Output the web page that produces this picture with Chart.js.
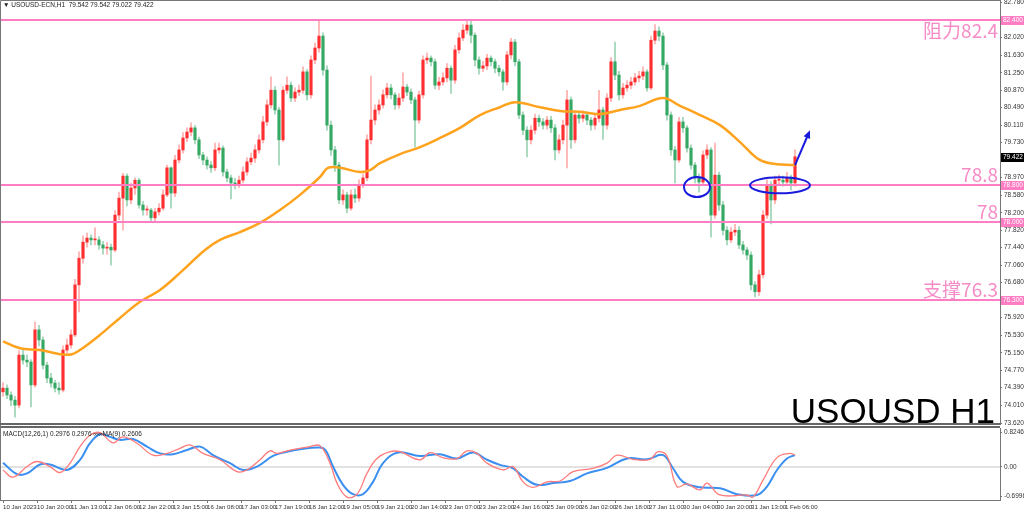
<!DOCTYPE html>
<html>
<head>
<meta charset="utf-8">
<script src="https://cdn.jsdelivr.net/npm/chart.js@4.4.0/dist/chart.umd.min.js"></script>
<style>
  html, body { margin: 0; padding: 0; background: #fff; overflow: hidden; }
  #wrap { position: relative; width: 1024px; height: 513px; }
  canvas { position: absolute; left: 0; }
  #main { top: 0; }
  #macd { top: 425px; }
</style>
</head>
<body>
<div id="wrap">
  <canvas id="main" width="1024" height="425"></canvas>
  <canvas id="macd" width="1024" height="88"></canvas>
</div>
<script>
// H1 candles in 2-hour steps (hour = 2 * index)
var firstOpen = 74.30;
var closes = [
  74.38,74.23,74.12,74.01,75.10,74.99,74.95,74.45,75.65,75.43,
  74.88,74.60,74.49,74.38,74.34,75.21,75.32,75.54,76.63,77.21,
  77.56,77.65,77.61,77.61,77.50,77.43,77.45,77.39,78.15,78.52,
  79.00,78.48,78.74,78.91,78.37,78.26,78.26,78.09,78.22,78.30,
  78.59,79.18,78.63,79.35,79.57,79.83,79.96,80.05,79.79,79.46,
  79.35,79.24,79.18,79.57,79.61,79.09,78.96,78.85,78.81,78.91,
  79.09,79.31,79.39,79.57,79.79,80.18,80.55,80.87,80.44,79.79,
  80.87,80.98,80.70,80.83,80.87,81.27,80.77,81.53,81.79,82.05,
  81.31,80.11,79.57,79.24,78.48,78.59,78.30,78.59,78.52,78.81,
  78.96,79.79,80.22,80.44,80.55,80.77,80.92,80.77,80.55,80.70,
  80.94,80.83,80.66,80.22,80.77,81.53,81.57,81.49,80.98,81.05,
  81.14,81.35,81.09,81.75,82.01,82.18,82.29,82.07,81.53,81.35,
  81.40,81.57,81.49,81.35,81.27,81.05,81.64,81.92,81.49,80.33,
  80.00,79.79,80.00,80.26,80.18,80.11,80.22,80.05,79.57,79.79,
  80.11,80.66,79.79,80.33,80.26,80.33,80.22,80.11,80.26,80.44,
  80.11,80.70,81.49,81.20,80.77,80.92,80.98,81.05,81.14,81.18,
  81.27,80.92,81.96,82.16,82.05,81.42,80.33,79.57,79.35,80.18,
  80.05,79.61,79.24,78.96,78.87,79.46,79.57,78.15,79.02,78.37,
  77.82,77.61,77.78,77.82,77.50,77.39,77.28,76.63,76.48,76.85,
  78.15,78.81,78.48,78.91,78.91,78.87,78.96,78.85,79.42
];
var highs = [
  74.50,74.45,74.30,74.20,75.20,75.25,75.10,75.00,75.82,75.75,
  75.50,74.95,74.70,74.55,74.50,75.30,75.45,75.65,76.75,77.35,
  77.70,77.76,77.72,77.87,77.68,77.58,77.55,77.52,78.25,78.65,
  79.06,79.05,78.85,78.96,78.95,78.45,78.35,78.30,78.30,78.40,
  78.70,79.24,79.20,79.45,79.68,79.95,80.05,80.16,80.10,79.85,
  79.52,79.42,79.32,79.72,79.72,79.66,79.15,79.02,78.95,79.00,
  79.20,79.40,79.50,79.68,79.90,80.30,80.66,81.16,80.95,80.50,
  80.95,81.16,81.05,80.92,80.98,81.38,81.32,81.62,81.90,82.38,
  82.12,81.40,80.20,79.65,79.30,78.70,78.65,78.70,78.72,78.92,
  79.05,79.90,81.18,80.55,80.66,80.88,81.02,81.00,80.82,80.80,
  81.25,81.00,80.90,80.72,80.85,81.62,81.68,81.62,81.55,81.15,
  81.25,81.45,81.40,81.85,82.12,82.30,82.40,82.38,82.12,81.60,
  81.50,81.65,81.62,81.55,81.42,81.32,81.72,82.00,81.98,81.55,
  80.40,80.08,80.10,80.35,80.33,80.25,80.30,80.30,80.12,79.90,
  80.22,80.87,80.72,80.42,80.40,80.42,80.40,80.28,80.35,80.87,
  80.50,80.80,81.58,81.92,81.28,81.02,81.08,81.15,81.24,81.28,
  81.38,81.32,82.05,82.30,82.25,82.12,81.48,80.40,79.65,80.28,
  80.28,80.10,79.68,79.30,79.05,79.55,79.68,79.62,79.72,79.08,
  78.45,77.90,77.88,77.95,77.90,77.58,77.45,77.35,76.70,76.95,
  78.25,78.92,78.88,79.00,79.02,79.00,79.08,79.02,79.57
];
var lows = [
  74.20,74.15,74.00,73.75,73.95,74.90,74.85,73.97,74.40,75.30,
  74.80,74.50,74.40,74.30,74.25,74.30,75.15,75.25,75.50,76.04,
  77.10,77.45,77.50,77.50,77.40,77.30,77.30,77.06,77.35,78.05,
  77.82,78.35,78.40,78.60,78.30,78.15,78.15,78.00,78.00,78.15,
  78.25,78.55,78.30,78.55,79.28,79.50,79.75,79.88,79.70,79.38,
  79.25,79.15,79.08,79.12,79.50,79.00,78.88,78.50,78.72,78.75,
  78.85,79.02,79.25,79.30,79.50,79.72,80.10,80.48,80.35,79.24,
  79.75,80.80,80.62,80.62,80.75,80.80,80.66,80.70,81.45,81.70,
  81.20,80.00,79.45,79.10,78.40,78.38,78.20,78.25,78.42,78.45,
  78.75,78.90,79.70,80.12,80.35,80.48,80.70,80.68,80.45,80.48,
  80.62,80.75,80.58,79.63,80.15,80.70,81.45,81.40,80.90,80.88,
  80.98,81.05,80.80,81.02,81.68,81.95,82.10,81.90,81.40,81.22,
  81.28,81.32,81.40,81.25,81.18,80.87,80.98,81.55,81.40,80.25,
  79.90,79.42,79.70,79.92,80.08,80.02,80.02,79.95,79.35,79.50,
  79.70,79.18,79.60,79.72,80.15,80.18,80.12,80.00,80.02,80.18,
  79.80,80.02,80.62,81.10,80.66,80.70,80.85,80.90,80.98,81.05,
  81.10,80.85,80.88,81.88,81.95,81.32,80.22,79.45,78.85,79.30,
  79.95,79.52,79.15,78.85,78.65,78.80,79.38,77.67,78.08,78.25,
  77.72,77.50,77.55,77.70,77.42,77.30,77.18,76.52,76.37,76.40,
  76.78,78.08,77.96,78.40,78.80,78.78,78.82,78.70,78.78
];

// orange moving average
var maHours = [0,8.5,18.5,28.5,34.5,38.5,48.5,58.5,68.5,78.5,88.5,101,108.5,118.5,128.5,138.5,148.5,158.5,162.5,168.5,178.5,183.5,188.5,198.5,208.5,218.5,228.5,238.5,248.5,256,268.5,278.5,288.5,298.5,308.5,318.5,330,338.5,348.5,358.5,368.5,377,383.5,396];
var maValues = [75.40,75.25,75.21,75.12,75.12,75.21,75.54,75.91,76.26,76.52,76.89,77.39,77.61,77.78,77.98,78.26,78.59,78.98,79.18,79.18,79.09,79.13,79.28,79.48,79.63,79.83,80.05,80.33,80.50,80.61,80.50,80.42,80.40,80.35,80.44,80.53,80.70,80.53,80.33,80.11,79.74,79.39,79.28,79.24];

// MACD panel
var macdHours = [0,5,12,17,23.5,28.5,33.5,38.5,43.5,48.5,55,60,67,75,82,88.5,93.5,100,108.5,117,122,128.5,133.5,137,143.5,153.5,158.5,163.5,167,172,177,182,187,193.5,198.5,208.5,213.5,220,227,232,237,242,250,255,260,265,272,278.5,285,295,302,307,315,323.5,327.5,332,337,342,348.5,352,358.5,372,375,380,387,393.5,396];
var macdValues = [-0.07,-0.24,0.01,0.13,0.01,-0.13,0.09,0.48,0.75,0.81,0.57,0.71,0.56,0.28,0.32,0.44,0.52,0.32,0.17,-0.11,-0.07,0.17,0.38,0.32,0.40,0.48,0.50,0.09,-0.38,-0.71,-0.64,-0.15,0.20,0.36,0.36,0.17,0.34,0.22,0.20,0.38,0.32,0.09,-0.07,0.01,-0.35,-0.48,-0.35,-0.33,-0.11,-0.03,0.09,0.28,0.18,0.18,0.36,0.26,-0.46,-0.40,-0.54,-0.38,-0.66,-0.66,-0.71,-0.31,0.22,0.32,0.28];
var signalHours = [0,7,12,18.5,23.5,32,38.5,43.5,48.5,53.5,58.5,65,72,78.5,85,92,98.5,105,113.5,120,127,135,142,148.5,158.5,161.5,165,170,175,180,185,190,197.5,208.5,218.5,227,235,242,248.5,255,260,267,275,283.5,292,302,312,322,330,335,340,348.5,358.5,367,377,382,387,392,396];
var signalValues = [0.10,-0.17,-0.15,0.06,0.06,-0.07,0.17,0.56,0.77,0.71,0.64,0.66,0.48,0.32,0.30,0.40,0.48,0.28,0.09,-0.07,0.01,0.26,0.36,0.42,0.46,0.38,0.01,-0.42,-0.64,-0.64,-0.35,0.09,0.34,0.26,0.30,0.20,0.34,0.17,0.05,-0.03,-0.23,-0.42,-0.38,-0.33,-0.15,-0.02,0.20,0.18,0.28,-0.03,-0.35,-0.48,-0.50,-0.64,-0.66,-0.46,-0.07,0.20,0.28];

// axis labels
var priceTicks = [82.78,82.02,81.63,81.25,80.87,80.49,80.11,79.73,79.35,78.97,78.58,78.20,77.82,77.44,77.06,76.68,75.92,75.53,75.15,74.77,74.39,74.01,73.62];
var timeTickHours = [0,17,34,51,68,85,102,119,136,153,170,187,204,221,238,255,272,289,306,323,340,357,374,391];
var timeLabels = ["10 Jan 2023","10 Jan 20:00","11 Jan 13:00","12 Jan 06:00","12 Jan 22:00","13 Jan 15:00","16 Jan 08:00","17 Jan 03:00","17 Jan 19:00","18 Jan 12:00","19 Jan 05:00","19 Jan 21:00","20 Jan 14:00","23 Jan 07:00","23 Jan 23:00","24 Jan 16:00","25 Jan 09:00","26 Jan 02:00","26 Jan 18:00","27 Jan 11:00","30 Jan 04:00","30 Jan 20:00","31 Jan 13:00","1 Feb 06:00"];
var macdTicks = [0.8246, 0, -0.6996];

// support / resistance levels
var levels = [82.4, 78.8, 78.0, 76.3];
var levelTexts = ["阻力82.4", "78.8", "78", "支撑76.3"];
var lastPrice = 79.422;

var X_MIN = -1.5, X_MAX = 498.5;
var smallFont = '6.5px "Liberation Sans", Arial, sans-serif';

var bodies = [], wicks = [], bodyColors = [], wickColors = [];
closes.forEach(function (c, i) {
  var o = i === 0 ? firstOpen : closes[i - 1];
  bodies.push({ x: i * 2, y: [o, c] });
  wicks.push({ x: i * 2, y: [lows[i], highs[i]] });
  var up = c >= o;
  bodyColors.push(up ? "#ff2f2f" : "#35a864");
  wickColors.push(up ? "rgba(255,90,90,0.5)" : "rgba(60,170,110,0.5)");
});

// fixed axis width, and no extra room for the end labels
function fixWidth(s) {
  s.width = 24;
  s.paddingTop = 0;
  s.paddingBottom = 0;
}

// lines, texts, tags and marks drawn over the main panel
var mainOverlay = {
  id: "mainOverlay",
  afterDraw: function (chart) {
    var ctx = chart.ctx, a = chart.chartArea, x = chart.scales.x, y = chart.scales.y;
    ctx.save();
    levels.forEach(function (v, i) {
      var py = Math.round(y.getPixelForValue(v));
      ctx.strokeStyle = "#ff7dc2";
      ctx.lineWidth = 2;
      ctx.beginPath();
      ctx.moveTo(a.left, py);
      ctx.lineTo(a.right, py);
      ctx.stroke();
      ctx.fillStyle = "#f78bc6";
      ctx.font = '19px "Noto Sans CJK SC", sans-serif';
      ctx.textAlign = "right";
      if (i === 0) {
        ctx.textBaseline = "top";
        ctx.fillText(levelTexts[i], a.right - 2, py + 1);
      } else {
        ctx.textBaseline = "alphabetic";
        ctx.fillText(levelTexts[i], a.right - 2, py - 3);
      }
      // tag on the price axis
      ctx.fillStyle = "#ff7dc2";
      ctx.fillRect(a.right + 1, py - 4, 23, 9);
      ctx.fillStyle = "#fff";
      ctx.font = smallFont;
      ctx.textAlign = "left";
      ctx.textBaseline = "middle";
      ctx.fillText(v.toFixed(3), a.right + 3, py + 0.5);
    });
    // last price tag
    var lp = Math.round(y.getPixelForValue(lastPrice));
    ctx.fillStyle = "#000";
    ctx.fillRect(a.right + 1, lp - 4, 23, 9);
    ctx.fillStyle = "#fff";
    ctx.font = smallFont;
    ctx.textAlign = "left";
    ctx.textBaseline = "middle";
    ctx.fillText(lastPrice.toFixed(3), a.right + 3, lp + 0.5);

    // blue ellipses and arrow
    ctx.strokeStyle = "#1a1adf";
    ctx.lineWidth = 2;
    var e1x = x.getPixelForValue(347), e1y = y.getPixelForValue(78.76);
    ctx.beginPath();
    ctx.ellipse(e1x, e1y, 13, 10, 0, 0, Math.PI * 2);
    ctx.stroke();
    var e2x = x.getPixelForValue(388.5), e2y = y.getPixelForValue(78.8);
    ctx.beginPath();
    ctx.ellipse(e2x, e2y, 30, 8, 0, 0, Math.PI * 2);
    ctx.stroke();
    var ax0 = x.getPixelForValue(396), ay0 = y.getPixelForValue(79.24);
    var ax1 = x.getPixelForValue(403.5), ay1 = y.getPixelForValue(80.0);
    var ang = Math.atan2(ay1 - ay0, ax1 - ax0);
    ctx.beginPath();
    ctx.moveTo(ax0, ay0);
    ctx.lineTo(ax1 - 5 * Math.cos(ang), ay1 - 5 * Math.sin(ang));
    ctx.stroke();
    ctx.fillStyle = "#1a1adf";
    ctx.beginPath();
    ctx.moveTo(ax1, ay1);
    ctx.lineTo(ax1 - 8 * Math.cos(ang) + 3.5 * Math.sin(ang), ay1 - 8 * Math.sin(ang) - 3.5 * Math.cos(ang));
    ctx.lineTo(ax1 - 8 * Math.cos(ang) - 3.5 * Math.sin(ang), ay1 - 8 * Math.sin(ang) + 3.5 * Math.cos(ang));
    ctx.closePath();
    ctx.fill();

    // header and symbol texts
    ctx.fillStyle = "#222";
    ctx.font = smallFont;
    ctx.textAlign = "left";
    ctx.textBaseline = "middle";
    ctx.fillText("\u25BC USOUSD-ECN,H1  79.542 79.542 79.022 79.422", 3, 5);
    ctx.fillStyle = "#000";
    ctx.font = '35px "Liberation Sans", Arial, sans-serif';
    ctx.textAlign = "right";
    ctx.textBaseline = "alphabetic";
    ctx.fillText("USOUSD H1", 995, 423);

    // frame
    ctx.strokeStyle = "#777";
    ctx.lineWidth = 1;
    ctx.beginPath();
    ctx.moveTo(0.5, 425); ctx.lineTo(0.5, 0.5); ctx.lineTo(a.right, 0.5);
    ctx.stroke();
    ctx.strokeStyle = "#666";
    ctx.lineWidth = 2;
    ctx.beginPath();
    ctx.moveTo(0, 424); ctx.lineTo(a.right, 424);
    ctx.stroke();
    ctx.restore();
  }
};

new Chart(document.getElementById("main").getContext("2d"), {
  type: "bar",
  data: {
    datasets: [
      {
        type: "line",
        label: "MA",
        data: maHours.map(function (h, i) { return { x: h, y: maValues[i] }; }),
        borderColor: "#ffa31f",
        borderWidth: 2.5,
        pointRadius: 0,
        tension: 0.4,
        order: 0
      },
      {
        label: "body",
        data: bodies,
        backgroundColor: bodyColors,
        barThickness: 2.5,
        minBarLength: 1,
        grouped: false,
        order: 1
      },
      {
        label: "wick",
        data: wicks,
        backgroundColor: wickColors,
        barThickness: 1,
        grouped: false,
        order: 2
      }
    ]
  },
  options: {
    responsive: false,
    animation: false,
    devicePixelRatio: 1,
    layout: { padding: 0 },
    plugins: { legend: { display: false }, tooltip: { enabled: false } },
    scales: {
      x: { type: "linear", min: X_MIN, max: X_MAX, offset: false, display: false },
      y: {
        position: "right",
        min: 73.577,
        max: 82.836,
        afterFit: fixWidth,
        afterBuildTicks: function (s) { s.ticks = priceTicks.map(function (v) { return { value: v }; }); },
        border: { display: true, color: "#777", width: 1 },
        grid: { drawOnChartArea: false, drawTicks: true, tickLength: 2, color: "#777" },
        ticks: {
          autoSkip: false,
          padding: 2,
          color: "#333",
          font: { family: '"Liberation Sans", Arial, sans-serif', size: 6.5 },
          callback: function (v) { return Number(v).toFixed(3); }
        }
      }
    }
  },
  plugins: [mainOverlay]
});

var macdOverlay = {
  id: "macdOverlay",
  beforeDatasetsDraw: function (chart) {
    var ctx = chart.ctx, a = chart.chartArea, y = chart.scales.y;
    var py = Math.round(y.getPixelForValue(0));
    ctx.save();
    ctx.strokeStyle = "#e2e2e2";
    ctx.lineWidth = 2;
    ctx.beginPath();
    ctx.moveTo(a.left, py);
    ctx.lineTo(a.right, py);
    ctx.stroke();
    ctx.restore();
  },
  afterDraw: function (chart) {
    var ctx = chart.ctx, a = chart.chartArea;
    ctx.save();
    ctx.fillStyle = "#222";
    ctx.font = smallFont;
    ctx.textAlign = "left";
    ctx.textBaseline = "middle";
    ctx.fillText("MACD(12,26,1) 0.2976 0.2976 \u221E\u221EMA(9) 0.2606", 3, 9);
    ctx.strokeStyle = "#666";
    ctx.lineWidth = 2;
    ctx.beginPath();
    ctx.moveTo(0, 2); ctx.lineTo(a.right, 2);
    ctx.stroke();
    ctx.strokeStyle = "#777";
    ctx.lineWidth = 1;
    ctx.beginPath();
    ctx.moveTo(0.5, 0); ctx.lineTo(0.5, a.bottom);
    ctx.stroke();
    ctx.restore();
  }
};

new Chart(document.getElementById("macd").getContext("2d"), {
  type: "line",
  data: {
    datasets: [
      {
        label: "MACD",
        data: macdHours.map(function (h, i) { return { x: h, y: macdValues[i] }; }),
        borderColor: "#ff7b7b",
        borderWidth: 1.3,
        pointRadius: 0,
        tension: 0.4
      },
      {
        label: "Signal",
        data: signalHours.map(function (h, i) { return { x: h, y: signalValues[i] }; }),
        borderColor: "#3a8ff0",
        borderWidth: 2,
        pointRadius: 0,
        tension: 0.4
      }
    ]
  },
  options: {
    responsive: false,
    animation: false,
    devicePixelRatio: 1,
    layout: { padding: { top: 3, left: 0, right: 0, bottom: 0 } },
    plugins: { legend: { display: false }, tooltip: { enabled: false } },
    scales: {
      x: {
        type: "linear",
        min: X_MIN,
        max: X_MAX,
        offset: false,
        afterFit: function (s) { s.height = 13; s.paddingLeft = 0; s.paddingRight = 0; },
        afterBuildTicks: function (s) { s.ticks = timeTickHours.map(function (v) { return { value: v }; }); },
        border: { display: true, color: "#777", width: 1 },
        grid: { drawOnChartArea: false, drawTicks: true, tickLength: 3, color: "#777" },
        ticks: {
          autoSkip: false,
          maxRotation: 0,
          align: "start",
          padding: 1,
          color: "#333",
          font: { family: '"Liberation Sans", Arial, sans-serif', size: 6.1 },
          callback: function (v, i) { return timeLabels[i]; }
        }
      },
      y: {
        position: "right",
        min: -0.778,
        max: 0.919,
        afterFit: fixWidth,
        afterBuildTicks: function (s) { s.ticks = macdTicks.map(function (v) { return { value: v }; }); },
        border: { display: true, color: "#777", width: 1 },
        grid: { drawOnChartArea: false, drawTicks: true, tickLength: 2, color: "#777" },
        ticks: {
          autoSkip: false,
          padding: 2,
          color: "#333",
          font: { family: '"Liberation Sans", Arial, sans-serif', size: 6.5 },
          callback: function (v) { return v === 0 ? "0.00" : Number(v).toFixed(4); }
        }
      }
    }
  },
  plugins: [macdOverlay]
});
</script>
</body>
</html>
